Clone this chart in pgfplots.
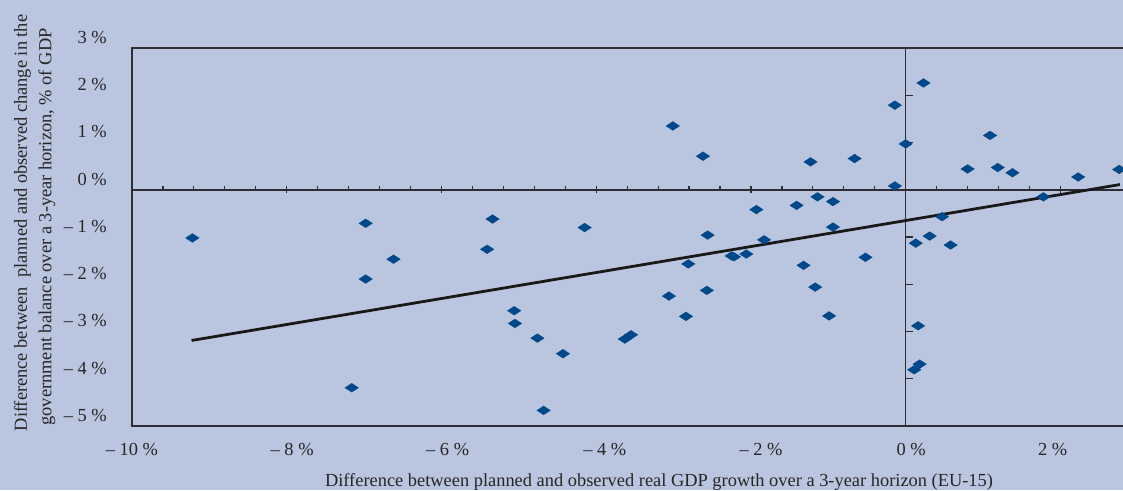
\documentclass[border=0pt]{standalone}
\usepackage{fontspec}
\setmainfont{Liberation Serif}
\usepackage{pgfplots}
\pgfplotsset{compat=1.18}
\definecolor{bg}{RGB}{186,197,223}
\definecolor{mk}{RGB}{0,72,138}
\definecolor{ax}{RGB}{45,45,50}
\pgfdeclarelayer{back}
\pgfsetlayers{back,main}
\begin{document}
\begin{tikzpicture}[x=1pt,y=1pt,font=\fontsize{18.4}{22}\selectfont]
% box axis carrying the tick labels
\begin{axis}[
  name=a,
  scale only axis, width=1005.8pt, height=378pt,
  xmin=-10, xmax=3, ymin=-5, ymax=3,
  axis line style={ax, line width=1.6pt},
  xtick={-10,-7.93,-5.92,-3.89,-1.87,0.07,1.90},
  xticklabels={– 10 \%, – 8 \%, – 6 \%, – 4 \%, – 2 \%, 0 \%, 2 \%},
  ytick={-5,-4,-3,-2,-1,0,1,2,3},
  yticklabels={– 5 \%, – 4 \%, – 3 \%, – 2 \%, – 1 \%, 0 \%, 1 \%, 2 \%, 3 \%},
  major tick length=0pt, tick style={draw=none},
  xticklabel style={anchor=base, inner sep=0pt, yshift=-29pt, text=black!85},
  yticklabel style={anchor=base east, inner sep=0pt, xshift=-25pt, yshift=4.7pt, text=black!85},
  clip=false,
]
\coordinate (O) at (axis cs:-10,-5);
\end{axis}
% axes crossing at zero, with the data
\begin{axis}[
  at={(O)}, anchor=south west,
  scale only axis, width=1005.8pt, height=378pt,
  xmin=-10, xmax=3, ymin=-5, ymax=3,
  axis lines=middle, axis line style={ax, line width=1.6pt, -},
  xtick={-10,-8,-6,-4,-2,0,2}, minor x tick num=4,
  ytick={-5,-4,-3,-2,-1,0,1,2,3},
  xticklabels={}, yticklabels={},
  tick style={ax, line width=1.2pt},
  tick align=center,
  major tick length=7pt, minor tick length=5pt,
  every minor x tick/.append style={yshift=1.5pt},
  every major y tick/.append style={xshift=3.5pt},
  clip=false,
]
\addplot[only marks, color=mk, mark=diamond*, mark size=4.4pt,
  mark options={xscale=2.05, solid, fill=mk, draw=mk, line width=0.3pt}] coordinates {
(-9.22,-1.02) (-6.98,-0.71) (-6.62,-1.47) (-6.98,-1.89) (-7.16,-4.19)
(-5.34,-0.62) (-5.41,-1.26) (-5.06,-2.56) (-5.05,-2.83) (-4.76,-3.14)
(-4.43,-3.47) (-4.68,-4.67) (-4.15,-0.80) (-3.63,-3.16) (-3.55,-3.07)
(-3.01,1.35) (-2.62,0.71) (-3.06,-2.25) (-2.84,-2.68) (-2.81,-1.57)
(-2.57,-2.13) (-2.56,-0.96) (-2.25,-1.40) (-2.22,-1.42) (-2.06,-1.36)
(-1.93,-0.42) (-1.83,-1.06) (-1.41,-0.33) (-1.23,0.59) (-1.14,-0.15)
(-0.94,-0.25) (-0.94,-0.79) (-1.32,-1.60) (-1.17,-2.06) (-0.99,-2.67)
(-0.66,0.66) (-0.52,-1.43) (-0.14,1.79) (-0.14,0.08) (0.00,0.97)
(0.23,2.26) (0.80,0.44) (1.09,1.15) (1.19,0.47) (1.38,0.36)
(2.23,0.27) (2.76,0.43) (1.78,-0.15) (0.47,-0.57) (0.31,-0.98)
(0.13,-1.13) (0.58,-1.17) (0.16,-2.88) (0.18,-3.69) (0.11,-3.81)
};
\addplot[black!90, line width=2.8pt] coordinates {(-9.23,-3.19) (2.77,0.11)};
\end{axis}
\path (O) ++(-132,-64) coordinate (P);
\begin{pgfonlayer}{back}
\fill[bg] (P) rectangle ++(1123,490);
\end{pgfonlayer}
\node[anchor=base, text=black!85] at ([shift={(659,4)}]P) {Difference between planned and observed real GDP growth over a 3-year horizon (EU-15)};
\node[anchor=base, rotate=90, text=black!85] at ([shift={(27,267)}]P) {Difference between~ planned and observed change in the};
\node[anchor=base, rotate=90, text=black!85] at ([shift={(51.5,263)}]P) {government balance over a 3-year horizon, \% of GDP};
\pgfresetboundingbox
\path (P) rectangle ++(1123,490);
\end{tikzpicture}
\end{document}
